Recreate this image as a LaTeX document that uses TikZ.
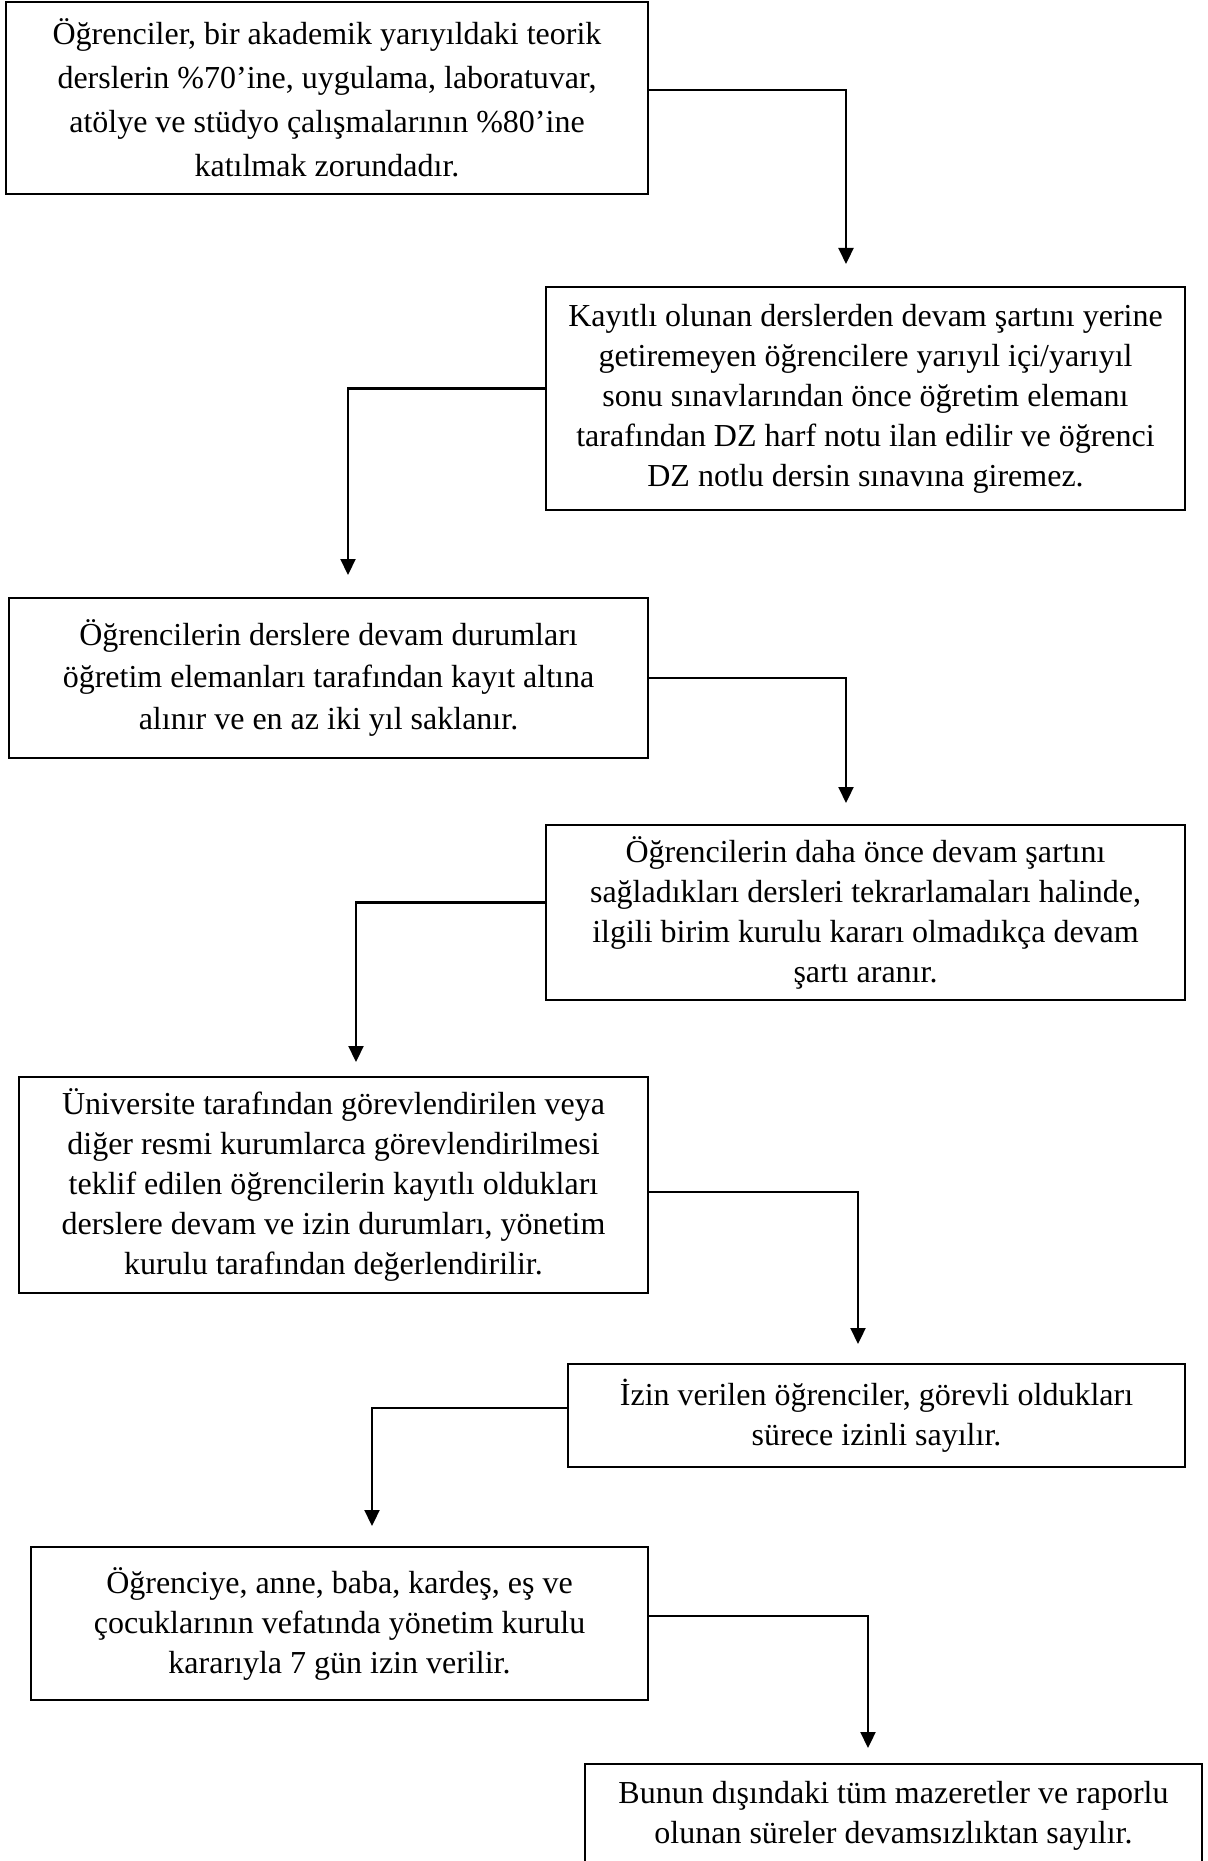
\documentclass[tikz,border=0pt]{standalone}
\usepackage{fontspec}
\setmainfont{Liberation Serif}
\usepackage{tikz}
\usetikzlibrary{calc,arrows.meta,positioning}
\tikzset{
  kutu/.style={draw, line width=1pt, align=center, inner sep=0pt, font=\fontsize{16}{20}\selectfont},
  ok/.style={-{Triangle[length=8pt,width=7.5pt]}, line width=1.1pt}
}

\begin{document}
\begin{tikzpicture}[x=0.5pt,y=-0.5pt]
\useasboundingbox (0,0) rectangle (1208,1861);
\clip (0,0) rectangle (1208,1861);

% kutular
\node[kutu, minimum width=321pt, minimum height=96pt, font=\fontsize{16}{22}\selectfont] (b1) at (327,98)
  {Öğrenciler, bir akademik yarıyıldaki teorik\\ derslerin \%70’ine, uygulama, laboratuvar,\\ atölye ve stüdyo çalışmalarının \%80’ine\\ katılmak zorundadır.};
\node[kutu, minimum width=319.5pt, minimum height=111.5pt] (b2) at (865.5,398.5)
  {Kayıtlı olunan derslerden devam şartını yerine\\ getiremeyen öğrencilere yarıyıl içi/yarıyıl\\ sonu sınavlarından önce öğretim elemanı\\ tarafından DZ harf notu ilan edilir ve öğrenci\\ DZ notlu dersin sınavına giremez.};
\node[kutu, minimum width=319.5pt, minimum height=80pt, font=\fontsize{16}{21}\selectfont] (b3) at (328.5,678)
  {Öğrencilerin derslere devam durumları\\ öğretim elemanları tarafından kayıt altına\\ alınır ve en az iki yıl saklanır.};
\node[kutu, minimum width=319.5pt, minimum height=87.5pt] (b4) at (865.5,912.5)
  {Öğrencilerin daha önce devam şartını\\ sağladıkları dersleri tekrarlamaları halinde,\\ ilgili birim kurulu kararı olmadıkça devam\\ şartı aranır.};
\node[kutu, minimum width=314.5pt, minimum height=108pt] (b5) at (333.5,1185)
  {Üniversite tarafından görevlendirilen veya\\ diğer resmi kurumlarca görevlendirilmesi\\ teklif edilen öğrencilerin kayıtlı oldukları\\ derslere devam ve izin durumları, yönetim\\ kurulu tarafından değerlendirilir.};
\node[kutu, minimum width=308.5pt, minimum height=51.5pt] (b6) at (876.5,1415.5)
  {İzin verilen öğrenciler, görevli oldukları\\ sürece izinli sayılır.};
\node[kutu, minimum width=308.5pt, minimum height=76.5pt] (b7) at (339.5,1623.5)
  {Öğrenciye, anne, baba, kardeş, eş ve\\ çocuklarının vefatında yönetim kurulu\\ kararıyla 7 gün izin verilir.};
\node[kutu, minimum width=308.5pt, anchor=north, inner ysep=8.5pt, text depth=60pt] (b8) at (893.5,1763)
  {Bunun dışındaki tüm mazeretler ve raporlu\\ olunan süreler devamsızlıktan sayılır.};

% oklar
\coordinate (t2) at (846,264);
\coordinate (t3) at (348,575);
\coordinate (t4) at (846,803);
\coordinate (t5) at (356,1062);
\coordinate (t6) at (858,1344);
\coordinate (t7) at (372,1526);
\coordinate (t8) at (868,1748);

\draw[ok] ([yshift=4pt]b1.east) -| (t2);
\draw[ok] ([yshift=5pt]b2.west) -| (t3);
\draw[ok] (b3.east) -| (t4);
\draw[ok] ([yshift=5pt]b4.west) -| (t5);
\draw[ok] ([yshift=-3.5pt]b5.east) -| (t6);
\draw[ok] ([yshift=3.75pt]b6.west) -| (t7);
\draw[ok] ([yshift=3.75pt]b7.east) -| (t8);
\end{tikzpicture}
\end{document}
